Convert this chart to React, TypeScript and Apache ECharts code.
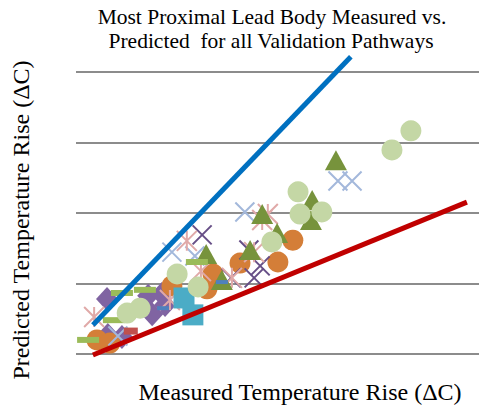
import React, { useEffect, useRef } from "react";
import * as echarts from "echarts";

// ---- data (x: measured, y: predicted) ----
const titleLines = ["Most Proximal Lead Body Measured vs.", "Predicted  for all Validation Pathways"];
const xLabel = "Measured Temperature Rise (\u0394C)";
const yLabel = "Predicted Temperature Rise (\u0394C)";

const greenCircles = [[8.31, 6.33], [7.84, 5.79], [5.51, 4.6], [5.56, 3.97], [6.1, 4.03], [4.86, 3.18], [2.51, 2.27], [3.03, 1.9], [1.27, 1.16], [1.59, 1.3]];
const orangeCircles = [[5.38, 3.23], [5.01, 2.61], [4.07, 2.58], [3.4, 2.27], [2.38, 1.93], [3.25, 1.85], [0.52, 0.4], [0.84, 0.31]];
const triangles = [[6.45, 5.5], [5.86, 4.37], [5.83, 3.8], [4.62, 3.97], [4.99, 3.43], [4.32, 2.95], [3.23, 2.84], [3.62, 2.1]];
const diamonds = [[0.77, 1.56], [0.79, 0.54], [1.14, 0.48], [1.79, 1.65], [2.13, 1.7], [1.89, 1.13], [2.21, 1.39]];
const lightBlueX = [[6.5, 4.91], [6.85, 4.91], [4.19, 4.03], [2.38, 2.89], [2.95, 2.78], [1.04, 0.51]];
const pinkStars = [[4.62, 3.8], [4.76, 3.97], [4.42, 2.89], [3.87, 2.16], [2.75, 3.21], [3.1, 2.35], [2.33, 1.53], [0.45, 1.05]];
const darkX = [[3.13, 3.38], [4.29, 2.95], [4.57, 2.5], [4.42, 2.16], [3.85, 2.16]];
const greenDash = [[3.0, 2.61], [1.14, 1.73], [1.71, 1.82], [0.94, 0.96], [0.3, 0.4]];
const tealSquares = [[2.68, 1.59], [2.9, 1.11]];
const blueDash = [[3.62, 2.04], [2.16, 1.3]];
const redDash = [[1.36, 0.65]];
const upperLine = [[0.42, 0.82], [6.82, 8.43]];
const lowerLine = [[0.42, -0.03], [9.7, 4.31]];

const X_PATH = "path://M0,0L20,20M20,0L0,20";
const STAR_PATH = "path://M0,0L20,20M20,0L0,20M10,0L10,20";

const serif = "'Liberation Serif', 'Times New Roman', serif";

function scatter(data: number[][], symbol: string, size: any, color: string, stroke = false) {
  return {
    type: "scatter",
    data,
    symbol,
    symbolSize: size,
    itemStyle: stroke
      ? { color: "rgba(0,0,0,0)", borderColor: color, borderWidth: 2, opacity: 1 }
      : { color, opacity: 1 },
    emphasis: { disabled: true },
  };
}

export default function App() {
  const ref = useRef<HTMLDivElement>(null);
  useEffect(() => {
    if (!ref.current) return;
    const chart = echarts.init(ref.current, null, { renderer: "svg" });
    chart.setOption({
      animation: false,
      backgroundColor: "#ffffff",
      grid: { left: 76, right: 0, top: 72, bottom: 52 },
      xAxis: {
        type: "value",
        min: 0,
        max: 10,
        axisLine: { show: false },
        axisTick: { show: false },
        axisLabel: { show: false },
        splitLine: { show: false },
      },
      yAxis: {
        type: "value",
        min: 0,
        max: 8,
        interval: 2,
        axisLine: { show: false },
        axisTick: { show: false },
        axisLabel: { show: false },
        splitLine: { show: true, lineStyle: { color: "#8c8c8c", width: 2 } },
      },
      graphic: [
        {
          type: "text",
          x: 272,
          y: 17,
          style: {
            text: titleLines[0],
            fontFamily: serif,
            fontSize: 21.5,
            align: "center",
            verticalAlign: "middle",
            fill: "#000",
          },
        },
        {
          type: "text",
          x: 271,
          y: 41,
          style: {
            text: titleLines[1],
            fontFamily: serif,
            fontSize: 21.5,
            align: "center",
            verticalAlign: "middle",
            fill: "#000",
          },
        },
        {
          type: "text",
          x: 300,
          y: 392,
          style: {
            text: xLabel,
            fontFamily: serif,
            fontSize: 24,
            align: "center",
            verticalAlign: "middle",
            fill: "#000",
          },
        },
        {
          type: "text",
          x: 21,
          y: 220,
          rotation: Math.PI / 2,
          style: {
            text: yLabel,
            fontFamily: serif,
            fontSize: 24,
            align: "center",
            verticalAlign: "middle",
            fill: "#000",
          },
        },
      ],
      series: [
        scatter(diamonds, "diamond", [22, 24], "#8064A2"),
        scatter(orangeCircles, "circle", 21, "#D47E38"),
        {
          type: "line",
          data: upperLine,
          symbol: "none",
          clip: false,
          lineStyle: { color: "#0070C0", width: 5 },
          emphasis: { disabled: true },
        },
        {
          type: "line",
          data: lowerLine,
          symbol: "none",
          clip: false,
          lineStyle: { color: "#C00000", width: 5 },
          emphasis: { disabled: true },
        },
        scatter(darkX, X_PATH, 19, "#664E86", true),
        scatter(lightBlueX, X_PATH, 19, "#A3B8DB", true),
        scatter(pinkStars, STAR_PATH, 20, "#E0A9A8", true),
        scatter(triangles, "triangle", [22, 20], "#77933C"),
        scatter(greenDash, "rect", [22, 6], "#9BBB59"),
        scatter(redDash, "rect", [14, 7], "#C0504D"),
        scatter(blueDash, "rect", [12, 4], "#4F81BD"),
        scatter(tealSquares, "rect", [21, 21], "#4BACC6"),
        scatter(greenCircles, "circle", 21, "#C4D7A5"),
      ],
    });
    return () => chart.dispose();
  }, []);
  return <div ref={ref} style={{ position: "fixed", left: 0, top: 0, width: 479, height: 406 }} />;
}
